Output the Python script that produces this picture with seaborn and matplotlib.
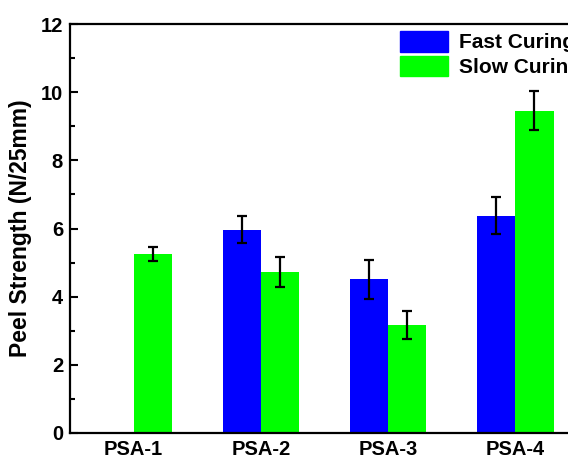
import matplotlib
matplotlib.use("Agg")
import matplotlib.pyplot as plt
import seaborn as sns
import numpy as np
import pandas as pd
from matplotlib.ticker import MultipleLocator

# Peel strength of four PSA formulations under two curing schedules
samples = ["PSA-1", "PSA-2", "PSA-3", "PSA-4"]
fast_mean = [np.nan, 5.96, 4.51, 6.37]
fast_err = [np.nan, 0.40, 0.57, 0.54]
slow_mean = [5.25, 4.71, 3.16, 9.45]
slow_err = [0.20, 0.44, 0.41, 0.57]
series = ["Fast Curing", "Slow Curing"]
colors = {"Fast Curing": "#0000FF", "Slow Curing": "#00FF00"}

df = pd.DataFrame({
    "Sample": samples * 2,
    "Curing": [series[0]] * 4 + [series[1]] * 4,
    "Strength": fast_mean + slow_mean,
    "Err": fast_err + slow_err,
})

sns.set_style("ticks")
plt.rcParams["font.family"] = ["Liberation Sans", "DejaVu Sans"]
plt.rcParams.update({
    "font.weight": "bold",
    "text.color": "black",
    "axes.labelcolor": "black",
    "xtick.color": "black",
    "ytick.color": "black",
    "axes.edgecolor": "black",
})

fig = plt.figure(figsize=(5.68, 4.59), dpi=100)
ax = fig.add_axes([70 / 568, 26 / 459, 509 / 568, 409 / 459])

sns.barplot(data=df, x="Sample", y="Strength", hue="Curing", order=samples,
            hue_order=series, palette=colors, saturation=1, width=0.6,
            errorbar=None, linewidth=0, ax=ax, legend=False)

# error bars centred on each dodged bar
offsets = {"Fast Curing": -0.15, "Slow Curing": 0.15}
for s in series:
    sub = df[df["Curing"] == s]
    xs = np.arange(len(samples)) + offsets[s]
    ax.errorbar(xs, sub["Strength"], yerr=sub["Err"], fmt="none",
                ecolor="black", elinewidth=1.6, capsize=3.5, capthick=1.6)

ax.set_xlim(-0.5, 3.5)
ax.set_ylim(0, 12)
ax.yaxis.set_major_locator(MultipleLocator(2))
ax.yaxis.set_minor_locator(MultipleLocator(1))
ax.tick_params(axis="y", which="major", direction="in", length=6, width=1.5,
               labelsize=14.5, pad=5)
ax.tick_params(axis="y", which="minor", direction="in", length=3.5, width=1.5)
ax.tick_params(axis="x", length=0, labelsize=14.5, pad=5)
for lab in ax.get_xticklabels() + ax.get_yticklabels():
    lab.set_fontweight("bold")
for sp in ax.spines.values():
    sp.set_linewidth(1.6)
ax.set_xlabel("")
ax.set_ylabel("Peel Strength (N/25mm)", fontsize=16.5, fontweight="bold",
              labelpad=6)

handles = [plt.Rectangle((0, 0), 1, 1, color=colors[s]) for s in series]
ax.legend(handles, series, loc="upper left",
          bbox_to_anchor=(400 / 568, 1 - 31 / 459),
          bbox_transform=fig.transFigure, frameon=False,
          handlelength=2.3, handleheight=1.15, labelspacing=0.15,
          handletextpad=0.55, borderaxespad=0, borderpad=0,
          prop={"weight": "bold", "size": 15})

fig.savefig("out.png", dpi=100)
